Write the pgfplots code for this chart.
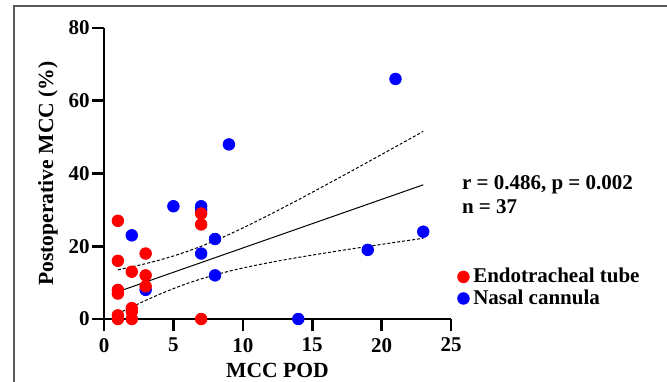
\documentclass[border=0pt]{standalone}
\usepackage{fontspec}
\setmainfont{Liberation Serif}
\usepackage{pgfplots}
\pgfplotsset{compat=1.18}
\begin{document}
\begin{tikzpicture}[x=1pt,y=1pt]
\useasboundingbox (0,0) rectangle (333.5,190.5);
\draw[black!65, line width=0.7pt] (7,-2) -- (7,187.5) -- (336,187.5);
\begin{axis}[
  at={(52pt,31pt)}, anchor=south west,
  scale only axis, width=173.5pt, height=145.5pt,
  axis lines=left, axis line style={-, line width=1.3pt},
  xmin=0, xmax=25, ymin=0, ymax=80,
  xtick={0,5,10,15,20,25}, ytick={0,20,40,60,80},
  minor tick num=0,
  tick align=outside, major tick length=6pt,
  every tick/.style={black, line width=1.3pt},
  /pgf/number format/assume math mode=true,
  tick label style={font=\bfseries\fontsize{10.5}{12}\selectfont},
  yticklabel style={inner sep=1pt},
  xlabel={MCC POD}, ylabel={Postoperative MCC (\%)},
  label style={font=\bfseries\fontsize{10.8}{12}\selectfont},
  xlabel style={at={(axis description cs:0.5,-0.1753)}, anchor=center},
  ylabel style={at={(axis description cs:-0.1614,0.5)}, anchor=center},
  clip=false,
  reverse legend,
  legend style={at={(1.018,0.19)}, anchor=north west, draw=none, fill=none,
    font=\bfseries\fontsize{10.5}{12}\selectfont, row sep=-2pt, inner sep=0pt},
  legend cell align=left,
  legend image code/.code={\draw[#1] plot coordinates {(0pt,0pt)};},
]
\addplot[black, line width=0.5pt, forget plot] coordinates {(1,7.50) (23,36.89)};
\addplot[black, line width=0.5pt, dash pattern=on 1.5pt off 1pt, forget plot] coordinates {
(1,13.53) (2,14.33) (3,15.22) (4,16.20) (5,17.32) (6,18.58) (7,19.99) (8,21.55)
(9,23.23) (10,25.02) (11,26.89) (12,28.81) (13,30.79) (14,32.79) (15,34.83)
(16,36.89) (17,38.95) (18,41.04) (19,43.13) (20,45.24) (21,47.35) (22,49.46) (23,51.58)};
\addplot[black, line width=0.5pt, dash pattern=on 1.5pt off 1pt, forget plot] coordinates {
(1,1.47) (2,3.33) (3,5.12) (4,6.80) (5,8.36) (6,9.78) (7,11.03) (8,12.15)
(9,13.13) (10,14.02) (11,14.83) (12,15.57) (13,16.27) (14,16.93) (15,17.57)
(16,18.19) (17,18.79) (18,19.38) (19,19.95) (20,20.52) (21,21.09) (22,21.64) (23,22.20)};
\addplot[only marks, mark=*, mark size=2.9pt, color=blue, fill=blue] coordinates {
(2,23) (3,8) (5,31) (7,30) (7,31) (7,18) (8,22) (8,12) (9,48) (14,0) (19,19) (21,66) (23,24)};
\addlegendentry{Nasal cannula}
\addplot[only marks, mark=*, mark size=2.9pt, color=red, fill=red] coordinates {
(1,27) (1,16) (1,8) (1,7) (1,1) (1,0) (2,13) (2,3) (2,2) (2,0) (3,18) (3,12) (3,9)
(7,29) (7,26) (7,0)};
\addlegendentry{Endotracheal tube}
\end{axis}
\node[anchor=west, inner sep=0pt, font=\bfseries\fontsize{10.5}{12}\selectfont] at (230.8,98) {r = 0.486, p = 0.002};
\node[anchor=west, inner sep=0pt, font=\bfseries\fontsize{10.5}{12}\selectfont] at (230.8,87) {n = 37};
\end{tikzpicture}
\end{document}
